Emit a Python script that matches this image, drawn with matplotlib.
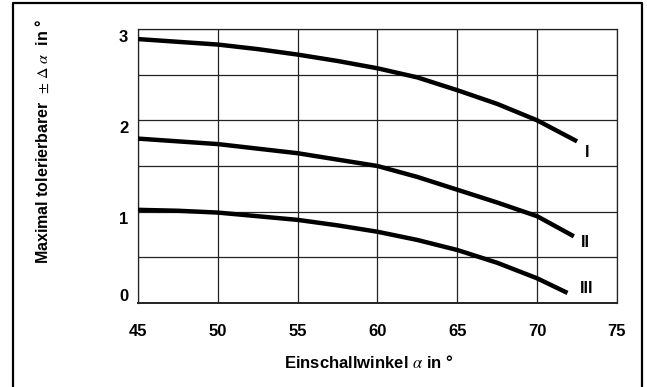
import matplotlib
matplotlib.use("Agg")
import matplotlib.pyplot as plt
import matplotlib.transforms as mtransforms
from matplotlib.lines import Line2D

plt.rcParams['font.family'] = ['Liberation Sans', 'DejaVu Sans']
plt.rcParams['mathtext.fontset'] = 'stix'

# curve readings (Einschallwinkel in deg -> max tolerable delta alpha in deg)
angle_I = [45, 47.5, 50, 52.5, 55, 57.5, 60, 62.5, 65, 67.5, 70, 72.5]
tol_I = [2.89, 2.86, 2.83, 2.78, 2.72, 2.65, 2.57, 2.47, 2.33, 2.18, 2.0, 1.77]

angle_II = [45, 47.5, 50, 52.5, 55, 57.5, 60, 62.5, 65, 67.5, 70, 72.3]
tol_II = [1.80, 1.77, 1.74, 1.69, 1.64, 1.57, 1.50, 1.38, 1.24, 1.10, 0.95, 0.73]

angle_III = [45, 47.5, 50, 52.5, 55, 57.5, 60, 62.5, 65, 67.5, 70, 71.9]
tol_III = [1.02, 1.01, 0.99, 0.95, 0.91, 0.85, 0.78, 0.69, 0.58, 0.44, 0.27, 0.11]

curve_names = ["I", "II", "III"]
label_pos = [(73.1, 1.65), (73.0, 0.66), (73.1, 0.16)]

xticks = [45, 50, 55, 60, 65, 70, 75]
yticks = [0, 1, 2, 3]
# the scanned y labels sit a bit off their grid lines (pixels, + = up)
ytick_shift = [6, -8, -8.5, -8]

fig = plt.figure(figsize=(6.47, 3.87), dpi=100)
ax = fig.add_axes([0.2133, 0.2171, 0.7403, 0.7079])

for xs, ys in [(angle_I, tol_I), (angle_II, tol_II), (angle_III, tol_III)]:
    ax.plot(xs, ys, color='black', lw=3.2, solid_capstyle='butt', zorder=3)

for name, (lx, ly) in zip(curve_names, label_pos):
    ax.text(lx, ly, name, fontsize=11.5, fontweight='bold', ha='center', va='center')

ax.set_xlim(45, 75)
ax.set_ylim(0, 3)
ax.set_xticks(xticks)
ax.set_yticks(yticks)
ax.set_yticklabels([])
ax.set_yticks([0.5, 1.5, 2.5], minor=True)
ax.grid(True, which='both', color='#222222', lw=0.9)
ax.tick_params(which='both', length=0)
ax.tick_params(axis='x', pad=15, labelsize=12)
for lab in ax.get_xticklabels():
    lab.set_fontweight('bold')

blend = mtransforms.blended_transform_factory(ax.transAxes, ax.transData)
for val, dy in zip(yticks, ytick_shift):
    off = mtransforms.ScaledTranslation(0, dy / 100, fig.dpi_scale_trans)
    ax.text(-0.03, val, str(val), fontsize=12, fontweight='bold', ha='center',
            va='center', transform=blend + off)

for sp in ax.spines.values():
    sp.set_linewidth(0.9)
    sp.set_color('#222222')
ax.spines['bottom'].set_linewidth(1.4)

# axis titles placed in figure coords to match the scan
fig.text(369 / 647, 1 - 363 / 387, r"Einschallwinkel $\alpha$ in °", fontsize=12,
         fontweight='bold', ha='center', va='center')
fig.text(42 / 647, 1 - 141 / 387, r"Maximal tolerierbarer  $\pm\ \Delta\ \alpha$  in °",
         fontsize=11.5, fontweight='bold', rotation=90, ha='center', va='center')

# outer frame (open at the bottom)
fx0, fx1, fy1 = 13 / 647, 642 / 647, 1 - 3 / 387
fig.add_artist(Line2D([fx0, fx0, fx1, fx1], [0, fy1, fy1, 0], color='black', lw=1.6))

fig.savefig("out.png", dpi=100)
